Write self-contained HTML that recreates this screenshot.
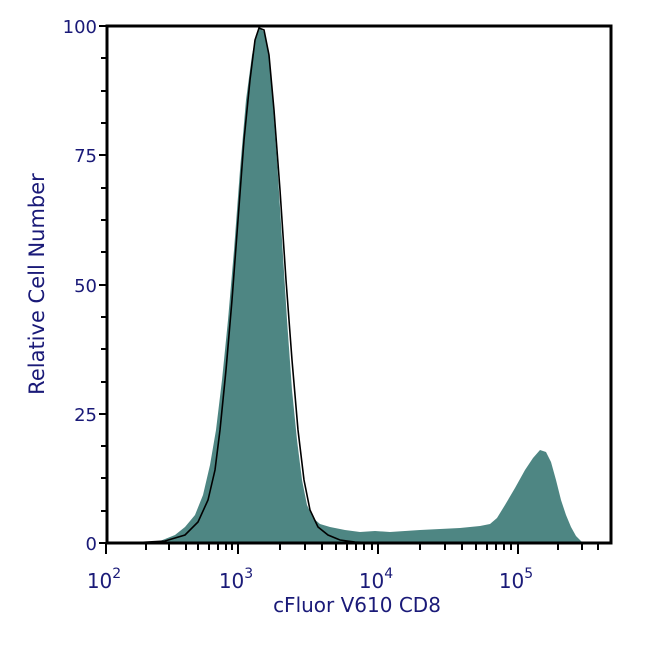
<!DOCTYPE html>
<html><head><style>body{margin:0;background:#fff}svg{display:block}text{font-family:"DejaVu Sans","Liberation Sans",sans-serif;fill:#1a1a78}</style></head><body>
<svg width="650" height="650" viewBox="0 0 650 650" xmlns="http://www.w3.org/2000/svg">
<path fill="#4e8683" d="M130,543 L160,541 175,535 185,527 195,515 203,495 210,465 216,430 222,380 228,320 234,250 240,170 246,100 252,55 256,35 260,28 264,32 268,50 272,90 277,160 282,240 287,320 292,390 297,440 302,480 307,505 313,518 320,524 330,527 345,530 360,532 375,531 390,532 405,531 420,530 440,529 460,528 480,526 490,524 497,518 505,505 515,488 525,470 533,458 540,450 546,452 551,462 556,480 561,500 566,515 571,527 576,536 582,542 590,543 Z"/>
<polyline fill="none" stroke="#000" stroke-width="1.6" points="130,543 165,541 185,535 198,522 208,500 215,470 220,430 226,370 232,300 238,220 244,140 250,80 255,40 259,28 264,30 269,55 274,110 280,190 286,280 292,360 298,430 304,480 310,510 318,527 328,535 340,540 355,542 380,543"/>
<rect x="107" y="26" width="504" height="517" fill="none" stroke="#000" stroke-width="3"/>
<g stroke="#000" stroke-width="2">
<line x1="99" y1="543" x2="107" y2="543"/><line x1="99" y1="414" x2="107" y2="414"/><line x1="99" y1="285" x2="107" y2="285"/><line x1="99" y1="155" x2="107" y2="155"/><line x1="99" y1="26" x2="107" y2="26"/>
<line x1="101" y1="511" x2="107" y2="511"/><line x1="101" y1="478" x2="107" y2="478"/><line x1="101" y1="446" x2="107" y2="446"/>
<line x1="101" y1="382" x2="107" y2="382"/><line x1="101" y1="349" x2="107" y2="349"/><line x1="101" y1="317" x2="107" y2="317"/>
<line x1="101" y1="252" x2="107" y2="252"/><line x1="101" y1="220" x2="107" y2="220"/><line x1="101" y1="188" x2="107" y2="188"/>
<line x1="101" y1="123" x2="107" y2="123"/><line x1="101" y1="91" x2="107" y2="91"/><line x1="101" y1="58" x2="107" y2="58"/>
<line x1="106" y1="543" x2="106" y2="554"/><line x1="238" y1="543" x2="238" y2="554"/><line x1="378" y1="543" x2="378" y2="554"/><line x1="518" y1="543" x2="518" y2="554"/>
<line x1="146" y1="543" x2="146" y2="550"/><line x1="169" y1="543" x2="169" y2="550"/><line x1="186" y1="543" x2="186" y2="550"/><line x1="198" y1="543" x2="198" y2="550"/><line x1="209" y1="543" x2="209" y2="550"/><line x1="218" y1="543" x2="218" y2="550"/><line x1="226" y1="543" x2="226" y2="550"/><line x1="232" y1="543" x2="232" y2="550"/>
<line x1="280" y1="543" x2="280" y2="550"/><line x1="305" y1="543" x2="305" y2="550"/><line x1="322" y1="543" x2="322" y2="550"/><line x1="336" y1="543" x2="336" y2="550"/><line x1="347" y1="543" x2="347" y2="550"/><line x1="356" y1="543" x2="356" y2="550"/><line x1="364" y1="543" x2="364" y2="550"/><line x1="372" y1="543" x2="372" y2="550"/>
<line x1="420" y1="543" x2="420" y2="550"/><line x1="445" y1="543" x2="445" y2="550"/><line x1="462" y1="543" x2="462" y2="550"/><line x1="476" y1="543" x2="476" y2="550"/><line x1="487" y1="543" x2="487" y2="550"/><line x1="496" y1="543" x2="496" y2="550"/><line x1="504" y1="543" x2="504" y2="550"/><line x1="511" y1="543" x2="511" y2="550"/>
<line x1="558" y1="543" x2="558" y2="550"/><line x1="582" y1="543" x2="582" y2="550"/><line x1="598" y1="543" x2="598" y2="550"/>
</g>
<g font-size="18" text-anchor="end">
<text x="97" y="550">0</text><text x="97" y="421">25</text><text x="97" y="292">50</text><text x="97" y="162">75</text><text x="97" y="33">100</text>
</g>
<g font-size="20" text-anchor="middle">
<text x="104" y="588">10<tspan font-size="14" dy="-10">2</tspan></text>
<text x="236" y="588">10<tspan font-size="14" dy="-10">3</tspan></text>
<text x="376" y="588">10<tspan font-size="14" dy="-10">4</tspan></text>
<text x="516" y="588">10<tspan font-size="14" dy="-10">5</tspan></text>
</g>
<text x="357" y="612" font-size="20" text-anchor="middle">cFluor V610 CD8</text>
<text transform="translate(44,284) rotate(-90)" font-size="21" text-anchor="middle">Relative Cell Number</text>
</svg>
</body></html>
